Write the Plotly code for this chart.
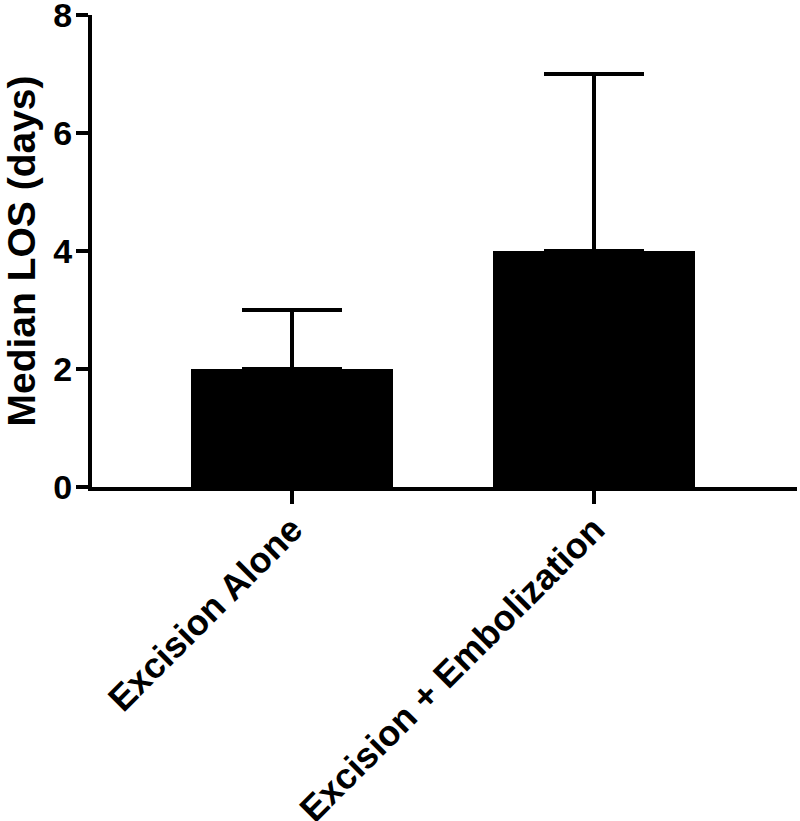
import plotly.graph_objects as go

categories = ["Excision Alone", "Excision + Embolization"]
medians = [2, 4]
upper_err = [1, 3]
y_ticks = [0, 2, 4, 6, 8]

FONT = "Liberation Sans, Arial, sans-serif"

fig = go.Figure()
fig.add_trace(go.Bar(
    x=categories,
    y=medians,
    width=0.666,
    marker=dict(color="black", line=dict(width=0)),
    error_y=dict(type="data", array=upper_err, symmetric=False,
                 arrayminus=[0, 0], color="black", thickness=3.5, width=50),
))

fig.update_layout(
    width=800, height=821,
    margin=dict(l=92, r=3, t=15, b=334),
    plot_bgcolor="white", paper_bgcolor="white",
    showlegend=False,
    bargap=0,
    font=dict(family=FONT, color="black"),
)
fig.update_xaxes(
    range=[-0.662, 1.672],
    automargin=False,
    showline=True, linecolor="black", linewidth=4,
    ticks="outside", ticklen=13, tickwidth=3.5, tickcolor="black",
    tickangle=-45,
    ticklabelstandoff=-10,
    ticklabeloverflow="allow",
    tickfont=dict(size=36, family=FONT, color="black", weight="bold"),
    showgrid=False, zeroline=False,
)
fig.update_yaxes(
    range=[0, 8],
    automargin=False,
    tickvals=y_ticks,
    showline=True, linecolor="black", linewidth=4,
    ticks="outside", ticklen=12, tickwidth=3.5, tickcolor="black",
    ticklabelstandoff=-3,
    ticklabeloverflow="allow",
    tickfont=dict(size=34, family=FONT, color="black", weight="bold"),
    title=dict(text="Median LOS (days)", standoff=18,
               font=dict(size=39, family=FONT, color="black", weight="bold")),
    showgrid=False, zeroline=False,
)

fig.write_html("out.html",
               config={"displayModeBar": False},
               post_script="document.body.style.margin='0';document.body.style.overflow='hidden';")
